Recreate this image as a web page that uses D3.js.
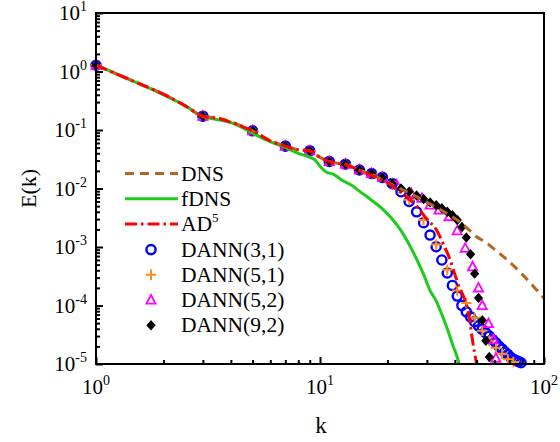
<!DOCTYPE html>
<html><head><meta charset="utf-8">
<script src="https://cdn.jsdelivr.net/npm/d3@7"></script>
<style>body{margin:0;background:#fff}svg{display:block}</style>
</head><body>
<script>
// ---- data ----
const dnsK = [1,1.5,2,2.5,3,3.5,4,4.5,5,6,7,8,9,10,11,12,13,15,17,20,23,26,30,34,38,42,46,50,55,60,70,80,90,100];
const dnsE = [1.28,0.66,0.41,0.26,0.172,0.160,0.138,0.115,0.097,0.066,0.053,0.046,0.044,0.034,0.029,0.027,0.026,0.0205,0.0175,0.0128,0.0098,0.0078,0.0058,0.0045,0.0035,0.0027,0.0020,0.0015,0.0012,0.00092,0.00056,0.00034,0.00021,0.000132];
const fdnsK = [1,1.5,2,2.5,3,3.5,4,4.5,5,6,7,8,9,9.5,10,10.7,11.5,12.5,14,15,17,19,21,23,25,27,29,31,33,35,37,39,41,41.8];
const fdnsE = [1.28,0.66,0.40,0.26,0.170,0.150,0.134,0.110,0.088,0.063,0.050,0.040,0.034,0.031,0.024,0.019,0.0175,0.014,0.011,0.0090,0.0063,0.0045,0.0030,0.0019,0.0011,0.00062,0.00034,0.00018,0.00012,0.00007,0.00004,0.000022,0.000013,0.00001];
const ad5K = [1,1.5,2,2.5,3,3.5,4,4.5,5,6,7,8,9,10,11,12,13,15,17,20,23,25,27,30,33,36,38,40,42,44,46,48,50];
const ad5E = [1.28,0.66,0.41,0.26,0.172,0.158,0.136,0.115,0.097,0.065,0.053,0.046,0.044,0.034,0.029,0.027,0.0255,0.0205,0.0168,0.0125,0.0085,0.0066,0.0050,0.0030,0.0020,0.0010,0.00062,0.00034,0.0002,0.000135,0.000075,0.000025,0.00001];
const dann31K = [1,3,5,7,9,11,13,15,17,19,21,23,25,27,29,31,33,35,37,39,41,43,45,47,49,51,53,55,57,59,61,63,65,67,69,71,73,75,77,79];
const dann31E = [1.28,0.172,0.097,0.053,0.044,0.029,0.026,0.0207,0.018,0.0155,0.0122,0.0088,0.0060,0.0040,0.0026,0.0016,0.00101,0.00060,0.00036,0.00022,0.000145,0.0001,0.000078,0.000064,0.000053,0.000045,0.000039,0.000034,0.00003,0.000026,0.000023,0.00002,0.000018,0.000016,0.0000145,0.000013,0.000012,0.0000115,0.000011,0.0000105];
const dann51K = [1,5,9,13,17,21,25,29,33,37,41,45,49,53,57,61,65,69,73];
const dann51E = [1.28,0.097,0.044,0.026,0.018,0.0123,0.0064,0.0029,0.0011,0.00041,0.00018,0.00011,0.000062,0.000037,0.000025,0.000019,0.000015,0.000012,0.0000108];
const dann52K = [1,3,5,7,9,11,13,15,17,19,22,25.5,28.5,31,34,37.7,41,44.5,48,51,53,56.5,59.5,61];
const dann52E = [1.28,0.172,0.097,0.053,0.044,0.029,0.026,0.0207,0.018,0.0155,0.0115,0.0083,0.0068,0.0052,0.0043,0.0033,0.0019,0.00095,0.00046,0.0002,0.0001,0.000049,0.000026,0.0000125];
const dann92K = [1,3,5,7,9,11,13,15,17,19,21,23,25,27,29,31,33,35,37,39,41,43,45,47,49,51,53,55,57];
const dann92E = [1.28,0.172,0.097,0.053,0.044,0.029,0.026,0.0207,0.018,0.0155,0.0122,0.0100,0.0088,0.0076,0.0066,0.0058,0.0052,0.0046,0.0040,0.0035,0.0029,0.0022,0.00145,0.00075,0.00035,0.000135,0.000056,0.000025,0.0000132];
const xMajor = [1,10,100];
const yMajor = [1e-5,1e-4,1e-3,1e-2,1e-1,1,10];
const xTickLabels = [["10","0"],["10","1"],["10","2"]];
const yTickLabels = [["10","-5"],["10","-4"],["10","-3"],["10","-2"],["10","-1"],["10","0"],["10","1"]];
const legendNames = ["DNS","fDNS","AD","DANN(3,1)","DANN(5,1)","DANN(5,2)","DANN(9,2)"];

// ---- layout ----
const FONT = '"Liberation Serif"';
const W=560,H=442, L=96,R=544,T=13,B=364;
const svg=d3.select("body").append("svg").attr("width",W).attr("height",H);
const x=d3.scaleLog().domain([1,100]).range([L,R]);
const y=d3.scaleLog().domain([1e-5,10]).range([B,T]);

// ---- texts first (tick labels, titles, legend labels) ----
function label(px,py,size,anchor,main,sup,supSize){
  const t=svg.append("text").attr("x",px).attr("y",py).attr("font-size",size).style("font-family",FONT);
  if(anchor) t.attr("text-anchor",anchor);
  t.append("tspan").text(main);
  if(sup) t.append("tspan").attr("dy",-9).attr("font-size",supSize).text(sup);
  return t;
}
xMajor.forEach((v,i)=>label(x(v),394,21,"middle",xTickLabels[i][0],xTickLabels[i][1],14));
yMajor.forEach((v,i)=>label(87,y(v)+7,21,"end",yTickLabels[i][0],yTickLabels[i][1],14));
label(321,433,23,"middle","k");
svg.append("text").attr("transform",`translate(36,${(T+B)/2}) rotate(-90)`).attr("text-anchor","middle")
   .attr("font-size",22).style("font-family",FONT).text("E(k)");
const ly0=181, ldy=25.2;
legendNames.forEach((n,i)=>label(181,ly0+i*ldy,21.5,null,n,i===2?"5":null,13));

// ---- marks ----
const plot=svg.append("g");
const zip=(ks,es)=>ks.map((k,i)=>[k,es[i]]);
const line=d3.line().x(d=>x(d[0])).y(d=>y(d[1])).curve(d3.curveMonotoneX);

function drawCircles(g,data,color){
  g.selectAll(null).data(data).enter().append("circle")
   .attr("cx",d=>x(d[0])).attr("cy",d=>y(d[1])).attr("r",4.6)
   .attr("fill","none").attr("stroke",color).attr("stroke-width",2.4);
}
function drawCross(g,data,color){
  g.selectAll(null).data(data).enter().append("path")
   .attr("d",d=>{const cx=x(d[0]),cy=y(d[1]),s=5.2;return `M${cx-s},${cy}H${cx+s}M${cx},${cy-s}V${cy+s}`;})
   .attr("stroke",color).attr("stroke-width",2).attr("fill","none");
}
function drawTri(g,data,color){
  g.selectAll(null).data(data).enter().append("path")
   .attr("d",d=>{const cx=x(d[0]),cy=y(d[1]);return `M${cx},${cy-5}L${cx+4.6},${cy+3.6}L${cx-4.6},${cy+3.6}Z`;})
   .attr("stroke",color).attr("stroke-width",1.8).attr("fill","none");
}
function drawDiamond(g,data,color){
  g.selectAll(null).data(data).enter().append("path")
   .attr("d",d=>{const cx=x(d[0]),cy=y(d[1]);return `M${cx},${cy-5.2}L${cx+4.6},${cy}L${cx},${cy+5.2}L${cx-4.6},${cy}Z`;})
   .attr("fill",color);
}
drawCircles(plot,zip(dann31K,dann31E),"#0000ff");
drawCross(plot,zip(dann51K,dann51E),"#ff8c1a");
drawTri(plot,zip(dann52K,dann52E),"#ff00ff");
drawDiamond(plot,zip(dann92K,dann92E),"#000");

const styles={
  dns:{c:"#b5651d",dash:"9,6"},
  fdns:{c:"#1ccc1c",dash:null},
  ad5:{c:"#ff0000",dash:"12,4,2.5,4"}
};
plot.append("path").datum(zip(fdnsK,fdnsE)).attr("d",line).attr("fill","none").attr("stroke",styles.fdns.c).attr("stroke-width",3);
plot.append("path").datum(zip(dnsK,dnsE)).attr("d",line).attr("fill","none").attr("stroke",styles.dns.c).attr("stroke-width",3).attr("stroke-dasharray",styles.dns.dash);
plot.append("path").datum(zip(ad5K,ad5E)).attr("d",line).attr("fill","none").attr("stroke",styles.ad5.c).attr("stroke-width",3).attr("stroke-dasharray",styles.ad5.dash);

// ---- axes: ticks inward ----
const xMinor=[];for(const d of [1,10])for(let m=2;m<=9;m++)xMinor.push(d*m);
const yMinor=[];for(const d of [1e-5,1e-4,1e-3,1e-2,1e-1,1])for(let m=2;m<=9;m++)yMinor.push(d*m);
function styleAxis(g){g.select(".domain").remove();g.selectAll("text").remove();g.selectAll("line").attr("stroke","#000").attr("stroke-width",2);}
svg.append("g").attr("transform",`translate(0,${B})`).call(d3.axisBottom(x).tickValues(xMajor).tickSize(-7).tickFormat("")).call(styleAxis);
svg.append("g").attr("transform",`translate(0,${B})`).call(d3.axisBottom(x).tickValues(xMinor).tickSize(-4).tickFormat("")).call(styleAxis);
svg.append("g").attr("transform",`translate(${L},0)`).call(d3.axisLeft(y).tickValues(yMajor).tickSize(-7).tickFormat("")).call(styleAxis);
svg.append("g").attr("transform",`translate(${L},0)`).call(d3.axisLeft(y).tickValues(yMinor).tickSize(-4).tickFormat("")).call(styleAxis);
svg.append("rect").attr("x",L).attr("y",T).attr("width",R-L).attr("height",B-T).attr("fill","none").attr("stroke","#000").attr("stroke-width",2);

// ---- legend symbols ----
const lg=svg.append("g");
[styles.dns,styles.fdns,styles.ad5].forEach((st,i)=>{
  const cy=ly0+i*ldy-7.5;
  lg.append("line").attr("x1",125).attr("x2",178).attr("y1",cy).attr("y2",cy).attr("stroke",st.c).attr("stroke-width",3).attr("stroke-dasharray",st.dash);
});
const lx=151;
drawCircles(lg,[[x.invert(lx),y.invert(ly0+3*ldy-7)]],"#0000ff");
drawCross(lg,[[x.invert(lx),y.invert(ly0+4*ldy-7)]],"#ff8c1a");
drawTri(lg,[[x.invert(lx),y.invert(ly0+5*ldy-7)]],"#ff00ff");
drawDiamond(lg,[[x.invert(lx),y.invert(ly0+6*ldy-7)]],"#000");
</script>
</body></html>
